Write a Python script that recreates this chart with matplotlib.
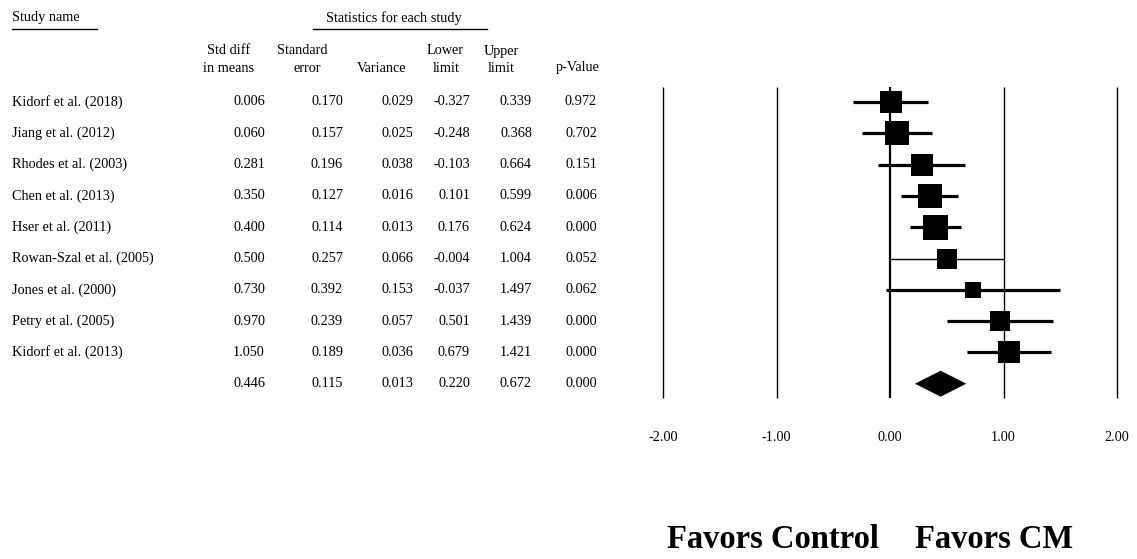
import numpy as np
import matplotlib.pyplot as plt
from matplotlib.lines import Line2D

plt.rcParams["font.family"] = ["Liberation Serif", "DejaVu Serif"]

studies = [
    "Kidorf et al. (2018)", "Jiang et al. (2012)", "Rhodes et al. (2003)",
    "Chen et al. (2013)", "Hser et al. (2011)", "Rowan-Szal et al. (2005)",
    "Jones et al. (2000)", "Petry et al. (2005)", "Kidorf et al. (2013)",
]
smd = [0.006, 0.060, 0.281, 0.350, 0.400, 0.500, 0.730, 0.970, 1.050]
se = [0.170, 0.157, 0.196, 0.127, 0.114, 0.257, 0.392, 0.239, 0.189]
variance = [0.029, 0.025, 0.038, 0.016, 0.013, 0.066, 0.153, 0.057, 0.036]
lower = [-0.327, -0.248, -0.103, 0.101, 0.176, -0.004, -0.037, 0.501, 0.679]
upper = [0.339, 0.368, 0.664, 0.599, 0.624, 1.004, 1.497, 1.439, 1.421]
pvals = [0.972, 0.702, 0.151, 0.006, 0.000, 0.052, 0.062, 0.000, 0.000]

# pooled (random effects) row
pooled = {"smd": 0.446, "se": 0.115, "var": 0.013, "lo": 0.220, "hi": 0.672, "p": 0.000}
tau2 = 0.075

xticks = [-2, -1, 0, 1, 2]
xtick_labels = ["-2.00", "-1.00", "0.00", "1.00", "2.00"]

W, H = 1137, 559
fig = plt.figure(figsize=(W / 100, H / 100), dpi=100)


def fx(px):
    return px / W


def fy(py):
    return 1 - py / H


# forest panel
row_h = 31.3
top_px, bot_px, first_row = 87, 398, 102
ax = fig.add_axes([fx(663), fy(bot_px), fx(1117 - 663), (bot_px - top_px) / H])
ax.set_xlim(-2, 2)
ymin = (top_px - first_row) / row_h
ymax = (bot_px - first_row) / row_h
ax.set_ylim(ymax, ymin)
for s in ax.spines.values():
    s.set_visible(False)
ax.set_yticks([])
ax.set_xticks(xticks)
ax.set_xticklabels(xtick_labels, fontsize=10.3)
ax.tick_params(axis="x", length=0, pad=24)

for t in xticks:
    ax.vlines(t, ymin, ymax, color="black", lw=1.6 if t == 0 else 1.0, clip_on=False)

n = len(studies)
rows = np.arange(n)
weights = 1 / (np.array(variance) + tau2)
side_px = 25 / np.sqrt(weights.max()) * np.sqrt(weights)
for i in rows:
    lw = 1.0 if studies[i].startswith("Rowan") else 2.3
    ax.hlines(i, lower[i], upper[i], color="black", lw=lw)
    ax.plot(smd[i], i, marker="s", color="black", markersize=side_px[i] * 0.72,
            markeredgewidth=0, linestyle="none")

half = 13 / row_h
ax.fill([pooled["lo"], pooled["smd"], pooled["hi"], pooled["smd"]],
        [n, n - half, n, n + half], color="black", lw=0)

# table on the left, rows share the panel's y scale
from matplotlib.transforms import blended_transform_factory
tr = blended_transform_factory(fig.transFigure, ax.transData)
fs = 10.3
col_right = [265, 343, 413, 470, 532, 597]
for i in rows:
    ax.text(fx(12), i, studies[i], transform=tr, fontsize=fs, va="center", ha="left")
    vals = [f"{smd[i]:.3f}", f"{se[i]:.3f}", f"{variance[i]:.3f}",
            f"{lower[i]:.3f}", f"{upper[i]:.3f}", f"{pvals[i]:.3f}"]
    for xr, v in zip(col_right, vals):
        ax.text(fx(xr), i, v, transform=tr, fontsize=fs, va="center", ha="right")
pvals_row = [pooled["smd"], pooled["se"], pooled["var"], pooled["lo"], pooled["hi"], pooled["p"]]
for xr, v in zip(col_right, pvals_row):
    ax.text(fx(xr), n, f"{v:.3f}", transform=tr, fontsize=fs, va="center", ha="right")

# headers
fig.text(fx(12), fy(18), "Study name", fontsize=fs, va="center", ha="left")
fig.text(fx(394), fy(18), "Statistics for each study", fontsize=fs, va="center", ha="center")
fig.add_artist(Line2D([fx(12), fx(97)], [fy(29), fy(29)], color="black", lw=1.0))
fig.add_artist(Line2D([fx(313), fx(487)], [fy(29), fy(29)], color="black", lw=1.0))

headers = [
    (229, 51, "Std diff"), (229, 68, "in means"),
    (302, 51, "Standard"), (307, 68, "error"),
    (382, 68, "Variance"),
    (445, 51, "Lower"), (446, 68, "limit"),
    (501, 51, "Upper"), (501, 68, "limit"),
    (578, 68, "p-Value"),
]
for x, y, s in headers:
    fig.text(fx(x), fy(y), s, fontsize=fs, va="center", ha="center")

fig.text(fx(773), fy(539), "Favors Control", fontsize=23.5, fontweight="bold",
         va="center", ha="center")
fig.text(fx(994), fy(539), "Favors CM", fontsize=23.5, fontweight="bold",
         va="center", ha="center")

fig.savefig("out.png", dpi=100)
